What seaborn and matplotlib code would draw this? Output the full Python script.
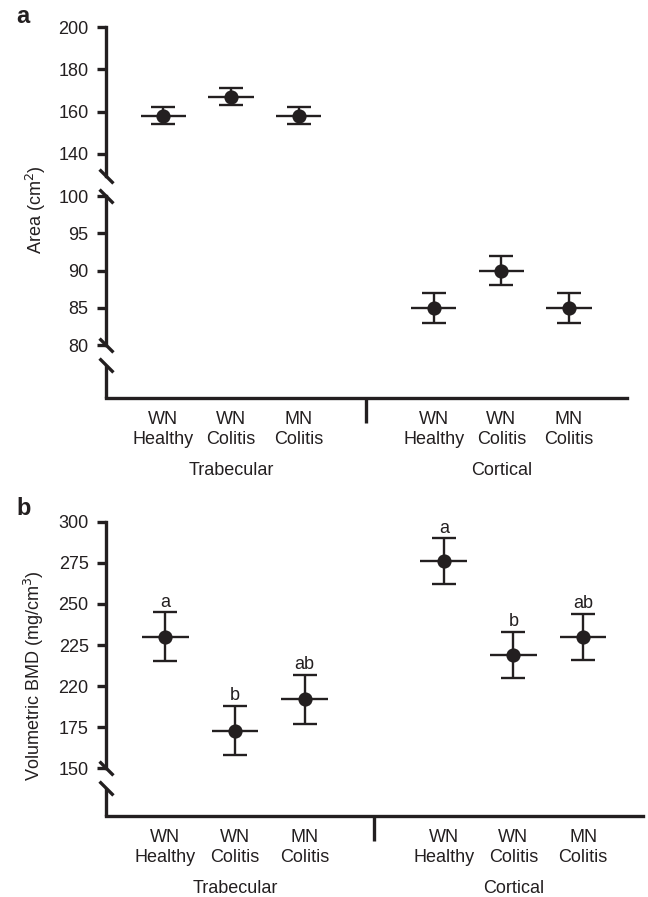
import numpy as np
import pandas as pd
import seaborn as sns
import matplotlib.pyplot as plt

# values (mean +/- error)
sites = ['Trabecular', 'Trabecular', 'Trabecular', 'Cortical', 'Cortical', 'Cortical']
groups = ['WN\nHealthy', 'WN\nColitis', 'MN\nColitis', 'WN\nHealthy', 'WN\nColitis', 'MN\nColitis']
area_mean = [158, 167, 158, 85, 90, 85]
area_err = [4, 4, 4, 2, 2, 2]
bmd_mean = [230, 173, 192, 276, 219, 230]
bmd_err = [15, 15, 15, 14, 14, 14]
bmd_letters = ['a', 'b', 'ab', 'a', 'b', 'ab']

area_top_ticks = [140, 160, 180, 200]
area_low_ticks = [80, 85, 90, 95, 100]
bmd_ticks = [150, 175, 200, 225, 250, 275, 300]
bmd_ticklabels = ['150', '175', '220', '225', '250', '275', '300']

df = pd.DataFrame({'site': sites, 'group': groups,
                   'area': area_mean, 'area_err': area_err,
                   'bmd': bmd_mean, 'bmd_err': bmd_err, 'letter': bmd_letters})
# one empty slot between trabecular and cortical
df['x'] = df.index + (df['site'] == 'Cortical').astype(int)

sns.set_style('ticks')
plt.rcParams['font.family'] = ['Liberation Sans', 'DejaVu Sans']
ink = '#231f20'
plt.rcParams['text.color'] = ink
plt.rcParams['xtick.color'] = ink
plt.rcParams['ytick.color'] = ink
plt.rcParams['axes.edgecolor'] = ink

W, H = 648, 897
fig = plt.figure(figsize=(W / 100, H / 100), dpi=100)
LW = 2.4
FS = 13


def px_axes(left, top, right, bottom):
    return fig.add_axes([left / W, 1 - bottom / H, (right - left) / W, (bottom - top) / H])


def draw_points(ax, col, ecol):
    ax.errorbar(df['x'], df[col], yerr=df[ecol], fmt='none', ecolor=ink,
                elinewidth=1.7, capsize=8.6, capthick=1.7)
    ax.errorbar(df['x'], df[col], xerr=0.335, fmt='none', ecolor=ink,
                elinewidth=1.7, capsize=0)
    sns.scatterplot(data=df, x='x', y=col, ax=ax, s=105, color=ink,
                    linewidth=0, zorder=5, legend=False)
    ax.set_xlim(-0.85, 6.86)
    ax.set_xlabel('')
    ax.set_ylabel('')
    sns.despine(ax=ax)
    ax.spines['left'].set_linewidth(LW)
    ax.spines['bottom'].set_linewidth(LW)
    ax.tick_params(axis='y', length=6.5, width=LW, pad=6, labelsize=FS)


def slash(ax, yvals):
    ax.plot([0] * len(yvals), yvals, transform=ax.get_yaxis_transform(),
            marker=[(-1, 1), (1, -1)], markersize=10, linestyle='none',
            mec=ink, mfc='none', mew=LW, clip_on=False, zorder=6)


def x_axis(ax):
    ax.set_xticks(df['x'])
    ax.set_xticklabels(df['group'], fontsize=FS, linespacing=1.25)
    ax.tick_params(axis='x', which='major', length=0, pad=9)
    ax.set_xticks([3], minor=True)
    ax.tick_params(axis='x', which='minor', length=18, width=LW, direction='out')
    for site, xc in [('Trabecular', 1), ('Cortical', 5)]:
        ax.annotate(site, xy=(xc, 0), xycoords=('data', 'axes fraction'),
                    xytext=(0, -46), textcoords='offset points',
                    ha='center', va='top', fontsize=FS)


# ---- panel a: broken axis ----
ax_top = px_axes(106, 27, 627, 176)
draw_points(ax_top, 'area', 'area_err')
ax_top.set_ylim(129.6, 200)
ax_top.set_yticks(area_top_ticks)
ax_top.spines['bottom'].set_visible(False)
ax_top.set_xticks([])
slash(ax_top, [129.6])

ax_low = px_axes(106, 196, 627, 398)
draw_points(ax_low, 'area', 'area_err')
ax_low.set_ylim(72.9, 100)
ax_low.set_yticks(area_low_ticks)
ax_low.spines['left'].set_bounds(80, 100)
ax_low.plot([0, 0], [77.3, 72.9], transform=ax_low.get_yaxis_transform(),
            color=ink, lw=LW, clip_on=False, solid_capstyle='butt')
slash(ax_low, [100, 80, 77.3])
x_axis(ax_low)

# ---- panel b ----
ax_b = px_axes(106, 521.7, 643, 816)
draw_points(ax_b, 'bmd', 'bmd_err')
ax_b.set_ylim(121, 300)
ax_b.set_yticks(bmd_ticks)
ax_b.set_yticklabels(bmd_ticklabels)
ax_b.spines['left'].set_bounds(150, 300)
ax_b.plot([0, 0], [137.8, 121], transform=ax_b.get_yaxis_transform(),
          color=ink, lw=LW, clip_on=False, solid_capstyle='butt')
slash(ax_b, [150, 137.8])
x_axis(ax_b)
for _, r in df.iterrows():
    ax_b.annotate(r['letter'], xy=(r['x'], r['bmd'] + r['bmd_err']),
                  xytext=(0, 4), textcoords='offset points',
                  ha='center', va='baseline', fontsize=FS)

# panel letters and axis titles
fig.text(16 / W, 1 - 23 / H, 'a', fontsize=17, fontweight='bold', va='baseline')
fig.text(16 / W, 1 - 515 / H, 'b', fontsize=17, fontweight='bold', va='baseline')
fig.text(36 / W, 1 - 210 / H, 'Area (cm$^2$)', rotation=90, ha='center', va='center', fontsize=FS)
fig.text(34 / W, 1 - 676 / H, 'Volumetric BMD (mg/cm$^3$)', rotation=90,
         ha='center', va='center', fontsize=FS)

fig.savefig('out.png', dpi=100)
